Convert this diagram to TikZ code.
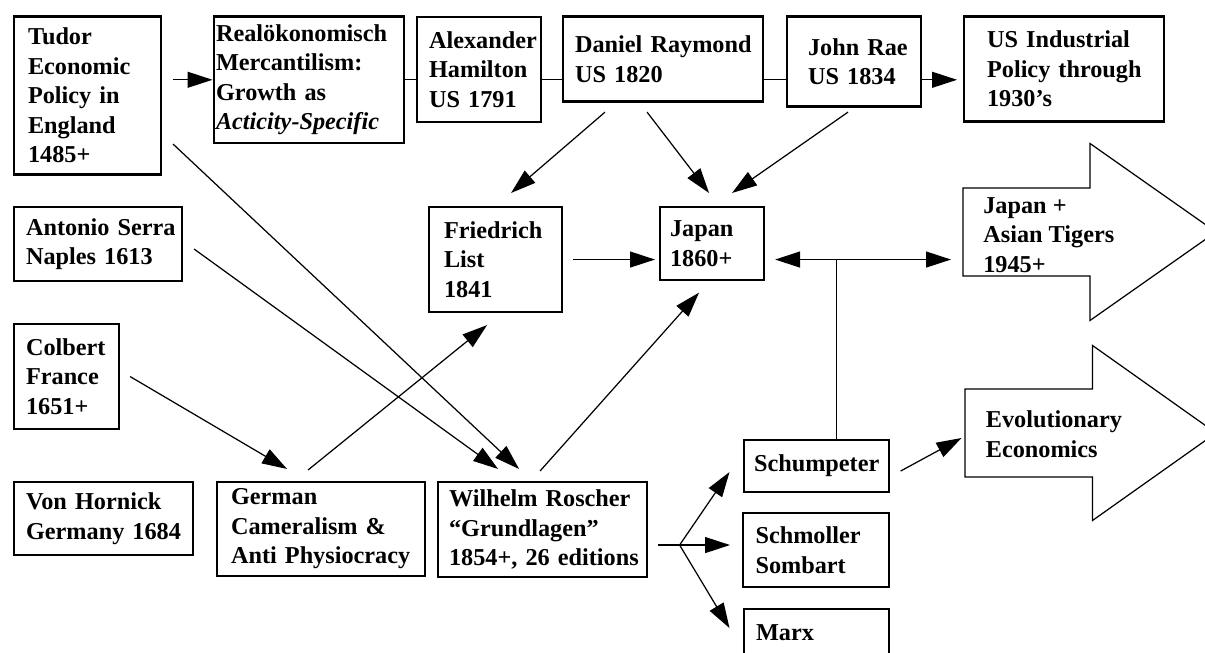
\documentclass[tikz,border=0pt]{standalone}
\usepackage{fontspec}
\setmainfont{Liberation Serif}
\usetikzlibrary{arrows.meta}
\hyphenpenalty=10000
\exhyphenpenalty=10000

\begin{document}
\begin{tikzpicture}[
    box/.style={draw, line width=1.2pt, anchor=north west, align=left, inner ysep=0pt,
        font=\bfseries\fontsize{13.8}{16.8}\selectfont},
    bigtext/.style={anchor=north west, align=left, inner sep=0pt,
        font=\bfseries\fontsize{13.8}{16.8}\selectfont},
    arr/.style={line width=0.7pt, -{Triangle[length=0.5cm,width=0.32cm]}},
    link/.style={line width=0.7pt},
    big/.style={line width=0.7pt, line join=miter}]
                \useasboundingbox (0,0) rectangle (24.1,13.06);
                % Draw the boxes
                \node[box, minimum width=2.94cm, minimum height=3.16cm, text width=2.38cm, inner xsep=0.28cm] (tudor) at (0.26,12.75) {Tudor\\Economic\\Policy~in\\England\\1485+};
                \node[box, minimum width=3.81cm, minimum height=2.53cm, text width=3.71cm, inner xsep=0.05cm] (real) at (4.25,12.75) {Realökonomisch\\Mercantilism:\\Growth~as\\\textit{Acticity-Specific}};
                \node[box, minimum width=2.48cm, minimum height=2.10cm, text width=2.00cm, inner xsep=0.24cm] (hamil) at (8.32,12.74) {Alexander\\Hamilton\\US~1791};
                \node[box, minimum width=4.00cm, minimum height=1.70cm, text width=3.52cm, inner xsep=0.24cm] (daniel) at (11.24,12.75) {Daniel~Raymond\\US~1820};
                \node[box, minimum width=2.68cm, minimum height=1.80cm, text width=1.84cm, inner xsep=0.42cm] (rae) at (15.72,12.75) {John~Rae\\US~1834};
                \node[box, minimum width=4.00cm, minimum height=2.10cm, text width=3.08cm, inner xsep=0.46cm] (usind) at (19.26,12.75) {US~Industrial\\Policy~through\\1930’s};
                \node[box, minimum width=3.36cm, minimum height=1.48cm, text width=2.88cm, inner xsep=0.24cm] (serra) at (0.26,8.94) {Antonio~Serra\\Naples~1613};
                \node[box, minimum width=2.10cm, minimum height=2.10cm, text width=1.62cm, inner xsep=0.24cm] (colbert) at (0.26,6.60) {Colbert\\France\\1651+};
                \node[box, minimum width=3.58cm, minimum height=1.46cm, text width=3.10cm, inner xsep=0.24cm] (hornick) at (0.26,3.44) {Von~Hornick\\Germany~1684};
                \node[box, minimum width=4.16cm, minimum height=1.88cm, text width=3.60cm, inner xsep=0.28cm] (german) at (4.32,3.44) {German\\Cameralism~\&\\Anti~Physiocracy};
                \node[box, minimum width=4.18cm, minimum height=1.90cm, text width=3.74cm, inner xsep=0.22cm] (roscher) at (8.74,3.44) {Wilhelm~Roscher\\“Grundlagen”\\1854+,~26~editions};
                \node[box, minimum width=2.66cm, minimum height=2.10cm, text width=2.06cm, inner xsep=0.30cm] (list) at (8.56,8.94) {Friedrich\\List\\1841};
                \node[box, minimum width=2.08cm, minimum height=1.46cm, text width=1.68cm, inner xsep=0.20cm] (japan) at (13.18,8.94) {Japan\\1860+};
                \node[box, minimum width=2.90cm, minimum height=1.04cm, text width=2.50cm, inner xsep=0.20cm] (schump) at (14.86,4.28) {Schumpeter};
                \node[box, minimum width=2.93cm, minimum height=1.48cm, text width=2.41cm, inner xsep=0.26cm] (schmol) at (14.83,2.82) {Schmoller\\Sombart};
                \node[box, minimum width=2.90cm, minimum height=0.96cm, text width=2.42cm, inner xsep=0.24cm] (marx) at (14.86,0.90) {Marx};

                % Draw the big arrows
                \coordinate (asia) at (19.26,8.42);
                \coordinate (evol) at (19.30,4.40);
                \draw[big, shift={(asia)}] (0,0.88) -- (2.54,0.88) -- (2.54,1.77) -- (5.06,0) -- (2.54,-1.77) -- (2.54,-0.88) -- (0,-0.88) -- cycle;
                \draw[big, shift={(evol)}] (0,0.88) -- (2.55,0.88) -- (2.55,1.75) -- (5.02,0) -- (2.55,-1.75) -- (2.55,-0.88) -- (0,-0.88) -- cycle;
                \node[bigtext] (asiatext) at ([shift={(0.40,0.70)}]asia) {Japan +\\Asian Tigers\\1945+};
                \node[bigtext] (evoltext) at ([shift={(0.41,0.45)}]evol) {Evolutionary\\Economics};

                % Draw the top row
                \draw[arr, shorten <=0.22cm] (tudor.east |- real.west) -- (real.west);
                \draw[link] (real.east) -- (hamil.west |- real.east);
                \draw[link] (hamil.east |- real.east) -- (daniel.west |- real.east);
                \draw[link] (daniel.east |- real.east) -- (rae.west |- real.east);
                \draw[arr, shorten >=0.12cm] (rae.east |- real.east) -- (usind.west |- real.east);

                % Draw the lines into List and Japan
                \draw[arr] ([shift={(-1.16,-0.19)}]daniel.south) -- ([shift={(0.31,0.26)}]list.north);
                \draw[arr] ([shift={(-0.32,-0.19)}]daniel.south) -- ([shift={(-0.06,0.26)}]japan.north);
                \draw[arr] ([shift={(-0.12,-0.09)}]rae.south) -- ([shift={(0.40,0.26)}]japan.north);
                \draw[arr, shorten <=0.2cm, shorten >=0.08cm] (list.east) -- (list.east -| japan.west);
                \draw[arr] ([shift={(-0.26,0.22)}]german.north) -- ([shift={(-0.17,-0.24)}]list.south);
                \draw[arr] ([shift={(-0.05,0.20)}]roscher.north) -- ([shift={(-0.26,-0.23)}]japan.south);

                % Draw the lines into Cameralism and Roscher
                \draw[arr] ([shift={(0.22,0.63)}]tudor.south east) -- ([shift={(-0.47,0.24)}]roscher.north);
                \draw[arr] ([shift={(0.22,-0.10)}]serra.east) -- ([shift={(-0.89,0.24)}]roscher.north);
                \draw[arr] ([xshift=0.2cm]colbert.east) -- ([shift={(-0.68,0.24)}]german.north);

                % Draw the junction under Japan
                \coordinate (tee) at ([xshift=0.4cm]schump.north |- list.east);
                \draw[link] (tee) -- ([xshift=0.4cm]schump.north);
                \draw[arr, shorten >=0.2cm] (tee) -- (tee -| japan.east);
                \draw[arr, shorten >=0.24cm] (tee) -- (tee -| asia);

                % Draw the fork out of Roscher
                \coordinate (fork) at ([shift={(0.63,-0.31)}]roscher.east);
                \draw[link] ([shift={(0.2,-0.31)}]roscher.east) -- (fork);
                \draw[arr] (fork) -- ([shift={(-0.27,-0.12)}]schump.west);
                \draw[arr, shorten >=0.23cm] (fork) -- (fork -| schmol.west);
                \draw[arr] (fork) -- ([shift={(-0.27,0.10)}]marx.west);
                \draw[arr] ([shift={(0.21,-0.10)}]schump.east) -- ([shift={(-0.07,-0.10)}]evol);
            \end{tikzpicture}
\end{document}
